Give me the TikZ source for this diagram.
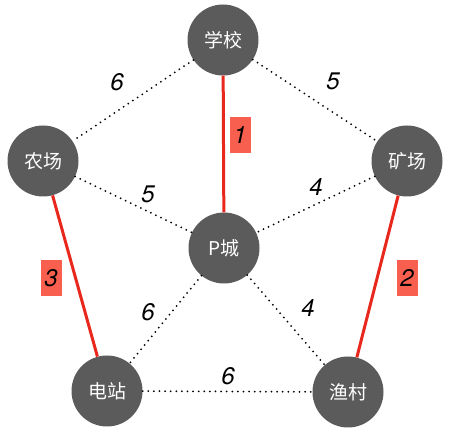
\documentclass[tikz,border=0pt]{standalone}
\usepackage{fontspec}
\setmainfont{TeX Gyre Heros}
\newfontfamily\cjk{Noto Sans CJK SC}
\definecolor{nodegray}{HTML}{5B5B5B}
\definecolor{edgered}{HTML}{E8281C}
\definecolor{boxred}{HTML}{F95F4E}
\begin{document}
\begin{tikzpicture}[x=1pt,y=1pt,
  city/.style={circle,fill=nodegray,minimum size=71pt,inner sep=0pt,text=white,font=\cjk\fontsize{19}{19}\selectfont},
  dotline/.style={line width=2pt,dash pattern=on 0pt off 5.6pt,line cap=round,black},
  redline/.style={line width=3pt,edgered},
  wlabel/.style={font=\itshape\fontsize{24}{24}\selectfont,inner sep=0pt},
  rlabel/.style={wlabel,fill=boxred,minimum width=21pt,minimum height=36pt}]
\useasboundingbox (0,0) rectangle (453,-430);
\node[city] (xx) at (223,-40) {学校};
\node[city] (nc) at (43,-161) {农场};
\node[city] (kc) at (407,-161) {矿场};
\node[city] (pc) at (224,-248) {P城};
\node[city] (dz) at (107,-391) {电站};
\node[city] (yc) at (348,-392) {渔村};
\draw[dotline] (xx) -- (nc);
\draw[dotline] (xx) -- (kc);
\draw[dotline] (nc) -- (pc);
\draw[dotline] (kc) -- (pc);
\draw[dotline] (pc) -- (dz);
\draw[dotline] (pc) -- (yc);
\draw[dotline] (dz) -- (yc);
\draw[redline] (xx) -- (pc);
\draw[redline] (nc) -- (dz);
\draw[redline] (kc) -- (yc);
\node[wlabel] (l1) at (117,-82) {6};
\node[wlabel] (l2) at (333,-81) {5};
\node[wlabel] (l3) at (148,-194) {5};
\node[wlabel] (l4) at (316,-187) {4};
\node[wlabel] (l5) at (148,-312) {6};
\node[wlabel] (l6) at (308,-308) {4};
\node[wlabel] (l7) at (228,-376) {6};
\node[rlabel] (r1) at (240,-135) {1};
\node[rlabel] (r3) at (51,-278) {3};
\node[rlabel] (r2) at (407,-278) {2};
\end{tikzpicture}
\end{document}
